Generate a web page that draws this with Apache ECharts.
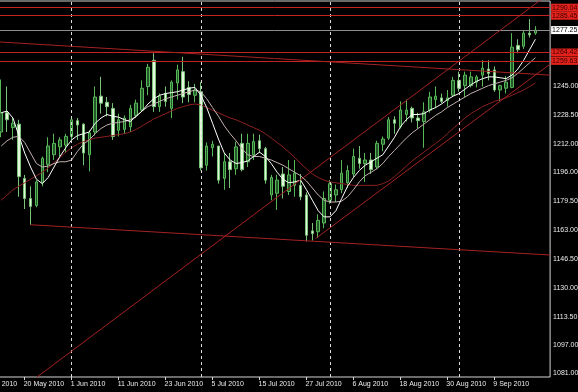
<!DOCTYPE html>
<html><head><meta charset="utf-8">
<style>html,body{margin:0;padding:0;background:#000;}#chart{width:578px;height:392px;}</style>
<script src="https://cdn.jsdelivr.net/npm/echarts@6/dist/echarts.min.js"></script>
</head><body><div id="chart"></div>
<script>
// ---- categories (trading days; first four precede the first visible bar) ----
const dates = ['10 May 2010','11 May 2010','12 May 2010','13 May 2010','14 May 2010','17 May 2010','18 May 2010','19 May 2010','20 May 2010','21 May 2010','24 May 2010','25 May 2010','26 May 2010','27 May 2010','28 May 2010','31 May 2010',
'1 Jun 2010','2 Jun 2010','3 Jun 2010','4 Jun 2010','7 Jun 2010','8 Jun 2010','9 Jun 2010','10 Jun 2010','11 Jun 2010','14 Jun 2010','15 Jun 2010','16 Jun 2010','17 Jun 2010','18 Jun 2010','21 Jun 2010','22 Jun 2010','23 Jun 2010','24 Jun 2010','25 Jun 2010','28 Jun 2010','29 Jun 2010','30 Jun 2010',
'1 Jul 2010','2 Jul 2010','5 Jul 2010','6 Jul 2010','7 Jul 2010','8 Jul 2010','9 Jul 2010','12 Jul 2010','13 Jul 2010','14 Jul 2010','15 Jul 2010','16 Jul 2010','19 Jul 2010','20 Jul 2010','21 Jul 2010','22 Jul 2010','23 Jul 2010','26 Jul 2010','27 Jul 2010','28 Jul 2010','29 Jul 2010','30 Jul 2010',
'2 Aug 2010','3 Aug 2010','4 Aug 2010','5 Aug 2010','6 Aug 2010','9 Aug 2010','10 Aug 2010','11 Aug 2010','12 Aug 2010','13 Aug 2010','16 Aug 2010','17 Aug 2010','18 Aug 2010','19 Aug 2010','20 Aug 2010','23 Aug 2010','24 Aug 2010','25 Aug 2010','26 Aug 2010','27 Aug 2010','30 Aug 2010','31 Aug 2010',
'1 Sep 2010','2 Sep 2010','3 Sep 2010','6 Sep 2010','7 Sep 2010','8 Sep 2010','9 Sep 2010','10 Sep 2010','13 Sep 2010','14 Sep 2010','15 Sep 2010','16 Sep 2010','17 Sep 2010','20 Sep 2010','21 Sep 2010','22 Sep 2010'];
const firstBarDate = '14 May 2010';

// ---- OHLC (from 14 May 2010) ----
const opens = [1219,1230,1221.5,1223.5,1192.5,1181,1177,1190,1200.5,1206,
1210.5,1211.5,1216.5,1225.5,1223.5,1206,1219,1239.5,1236,1232.5,
1220,1220.5,1222,1228.5,1231.5,1245,1260,1233.5,1241,1232.5,
1247,1253.5,1244.5,1240,1242,1200,1210,1211,1192.5,1202,
1198,1212.5,1202,1206,1214,1209.5,1183,1184,1195,1185,
1188.5,1188.5,1183,1162.5,1162,1167,1180,1183,1186,1190,
1195,1204,1201,1203,1199,1212,1215.5,1226,1222,1229,
1232.5,1227,1225,1231.5,1237.5,1238.5,1237,1240,1248.5,1245.5,
1245.5,1247.5,1251.5,1255,1254.5,1243,1244,1244.5,1268.5,1268,
1275.5,1275.5];
const highs = [1249,1245,1227,1226,1194.5,1188,1191.5,1205,1216,1218,
1216,1218,1228,1227,1224,1220,1245,1250.5,1239,1235.5,
1229.5,1228.5,1234.5,1237.5,1248.5,1258,1264,1241,1245,1248.5,
1257.5,1262,1248,1246.5,1247.5,1213,1214,1211,1207,1207,
1213.5,1218,1218,1218,1217.5,1210.5,1194.5,1194.5,1199,1203,
1203,1195,1184.5,1167,1172,1185,1191.5,1189,1203,1200,
1209.5,1211,1207,1207,1214,1216.5,1227.5,1228,1236.5,1237.5,
1233.5,1230,1236,1242,1245,1241,1243,1250.5,1253.5,1253.5,
1253.5,1251.5,1260,1260,1256.5,1246,1251,1275.5,1272,1277,
1283.5,1279.5];
const lows = [1216,1219,1214.5,1182,1175,1166,1176,1188,1196,1203,
1205,1207,1214.5,1214.5,1200,1196.5,1217,1229.5,1228,1214.5,
1216.5,1218,1219,1227,1231,1240,1230.5,1230.5,1233.5,1227,
1237.5,1235.5,1236,1236,1197,1197,1205,1189.5,1186,1187,
1194.5,1196.5,1199,1203,1207,1189.5,1180,1174.5,1181,1183,
1182,1180,1156.5,1157,1158.5,1164,1178,1179,1184,1187,
1193,1198,1190.5,1195,1198,1208,1214.5,1218,1221,1225,
1224.5,1221,1210,1230,1232.5,1235.5,1233.5,1239,1242,1239,
1244.5,1244.5,1245,1248.5,1242,1236.5,1241,1244,1264,1266.5,
1273,1274.5];
const closes = [1230,1226,1224,1193.5,1181,1176.5,1190.5,1204,1211,1212.5,
1214.5,1216.5,1226,1223,1207,1218.5,1239,1235.5,1233.5,1216.5,
1226,1227,1232.5,1235.5,1244,1256,1233.5,1239.5,1236.5,1247.5,
1254.5,1239,1240.5,1243,1198.5,1211,1212,1191.5,1202,1197.5,
1210.5,1197.5,1212.5,1213.5,1209.5,1191.5,1193,1191.5,1188,1194.5,
1195.5,1182,1160,1161,1168.5,1181,1189.5,1186,1195.5,1197,
1205,1201,1203,1197.5,1212.5,1215,1226,1224,1231.5,1231.5,
1227,1225.5,1230.5,1239,1239.5,1236.5,1238.5,1248.5,1244,1251.5,
1250.5,1250.5,1255.5,1252.5,1243,1245.5,1247.5,1267.5,1266,1275.5,
1274.5,1277.25];

// ---- moving averages ----
const maFast = [1230,1231,1227,1217,1207,1199,1192,1189.5,1193,1199,
1205,1210,1214.5,1217,1218,1219,1224,1227,1229,1228,
1227.5,1226,1225,1228,1231,1235,1238,1240,1241,1241.5,
1242,1243,1244,1244.5,1240,1233,1224,1215,1207,1203,
1201,1201.5,1202.5,1205,1207.5,1205,1201,1196,1192,1190,
1190.5,1191.5,1186,1180,1174,1170.5,1170.5,1174,1181,1188,
1193,1197,1200,1202,1204,1206,1211,1216,1222,1226,
1229,1229,1229.5,1231.5,1233,1235,1237.5,1239.5,1241,1243.5,
1246,1248,1249.5,1250.5,1250.5,1250,1249.5,1251.5,1255,1260,
1266,1272];
const maMid = [1211,1214,1216,1216.5,1213,1207,1201,1199,1199.5,1201,
1202,1202,1203,1208,1212,1214.5,1218,1221,1223,1224,
1224.5,1225,1226,1228,1231,1233.5,1235,1236.5,1238,1239,
1240,1241,1242,1243,1242,1238,1233,1228,1222.5,1218,
1214,1209.5,1206,1205,1205,1204,1203,1201.5,1200,1198,
1196,1194,1191,1187,1183,1180,1179,1179,1179.5,1182,
1186,1190.5,1194,1196,1198,1201,1205,1208.5,1212,1215.5,
1218.5,1221,1223.5,1226,1228.5,1230.5,1233,1235,1237,1239,
1241,1242.5,1244,1245.5,1246.5,1247.5,1248.5,1250,1252.5,1255.5,
1258.5,1261.5];
const maSlow = [1180,1183,1186,1188,1190,1192,1194,1196,1198.5,1201.5,
1204.5,1207.5,1210,1212,1213.5,1214.5,1215.5,1216,1216.5,1217,
1217.5,1218,1219,1220.5,1222.5,1224.5,1226.5,1228,1229.5,1231,
1232.5,1233.5,1234.5,1235,1234.5,1233,1231.5,1230,1228.5,1227,
1226,1224.5,1223,1221.5,1220,1218,1215.5,1213,1210.5,1207.5,
1204.5,1201,1198,1195,1193,1191.5,1190.5,1190,1189.5,1189,
1188.5,1188.5,1188.5,1188.5,1188.5,1189.5,1191,1193.5,1196.5,1199.5,
1202.5,1205,1207.5,1210,1212.5,1215,1218,1221,1224,1227,
1229.5,1231.5,1233.5,1235,1236.5,1237.5,1238.5,1240,1241.5,1243,
1245,1247];

// ---- drawn objects: trend lines as [position in dates, price] ----
const trendUpper = [[10.1,1079],[97.5,1298.5]];
const trendLower = [[57.5,1158],[97.5,1257.8]];
const trendFalling = [[-0.5,1271.3],[97.5,1251.5]];
const trendBottom = [[9,1166],[97.5,1148.7]];
const redLevels = [1290.04, 1285.45, 1264.42, 1259.63];
const bidPrice = 1277.25;
const separators = ['1 Jun 2010','1 Jul 2010','2 Aug 2010','1 Sep 2010'];
const priceTicks = [1081,1097,1113.5,1130,1146.5,1163,1179.5,1196,1212,1228.5,1245];

// ---- build ----
const offset = dates.indexOf(firstBarDate);
const lastBar = offset + closes.length - 1;
const pad = arr => dates.map((d,i) => { const k = i - offset; return (k >= 0 && k < arr.length) ? arr[k] : '-'; });
const candleData = dates.map((d,i) => { const k = i - offset; return (k >= 0 && k < closes.length) ? [opens[k], closes[k], lows[k], highs[k]] : '-'; });
const labelEvery = (idx) => idx % 8 === 0 && idx <= lastBar;
const FONT = '"Liberation Sans", Arial, sans-serif';
const FS = 7;
const TREND = '#a52222';

const levelLines = redLevels.map(v => ({
  yAxis: v,
  lineStyle: {color: '#c42424', width: 1, type: 'solid'},
  label: {show: true, position: 'end', formatter: p => Number(p.value).toFixed(2), backgroundColor: '#e3221c', color: '#3a0000', fontSize: FS, fontFamily: FONT, padding: [1,1,0,1], distance: 1}
}));
const bidLine = {
  yAxis: bidPrice,
  lineStyle: {color: '#8e8e8e', width: 1, type: 'solid'},
  label: {show: true, position: 'end', formatter: p => Number(p.value).toFixed(2), backgroundColor: '#ffffff', color: '#000', fontSize: FS, fontFamily: FONT, padding: [1,1,0,1], distance: 1}
};
const sepLines = separators.map(d => ({
  xAxis: d,
  lineStyle: {color: '#dcdcdc', width: 1, type: [3,3]},
  label: {show: false}
}));

const trend = (data) => ({type: 'line', xAxisIndex: 1, data, symbol: 'none', silent: true, clip: true, z: 5,
  lineStyle: {color: TREND, width: 1}});
const ma = (arr, color) => ({type: 'line', xAxisIndex: 0, data: pad(arr), symbol: 'none', silent: true, z: 4,
  lineStyle: {color, width: 1}});

const option = {
  animation: false,
  backgroundColor: '#000',
  grid: {left: -25.2, top: 1, width: 575.3, height: 376, containLabel: false, outerBoundsMode: 'none',
    show: true, borderColor: '#d4d4d4', borderWidth: 1, backgroundColor: '#000'},
  xAxis: [
    {type: 'category', data: dates, boundaryGap: true,
     axisLine: {show: false},
     axisTick: {show: true, alignWithLabel: true, interval: labelEvery, length: 3, lineStyle: {color: '#d4d4d4'}},
     axisLabel: {interval: labelEvery, align: 'left', color: '#ececec', fontSize: FS, fontFamily: FONT, margin: 4, hideOverlap: false, padding: [0,0,0,-1]},
     splitLine: {show: false}},
    {type: 'value', min: -0.5, max: dates.length - 0.5, show: false}
  ],
  yAxis: {type: 'value', position: 'right', min: 1079, max: 1293.86,
    axisLine: {show: false}, splitLine: {show: false},
    axisTick: {show: true, customValues: priceTicks, length: 3, lineStyle: {color: '#d4d4d4'}},
    axisLabel: {customValues: priceTicks, formatter: v => Number(v).toFixed(2), color: '#ececec', fontSize: FS, fontFamily: FONT, margin: 3}},
  series: [
    {type: 'candlestick', data: candleData, barWidth: 3, z: 3, silent: true,
     itemStyle: {color: '#24582a', color0: '#e4f6dc', borderColor: '#56b856', borderColor0: '#78c478', borderWidth: 1},
     markLine: {silent: true, symbol: ['none','none'], animation: false, data: [...sepLines, ...levelLines, bidLine]}},
    ma(maSlow, '#8e2020'),
    ma(maMid, '#c4b0b0'),
    ma(maFast, '#ffffff'),
    trend(trendUpper),
    trend(trendLower),
    trend(trendFalling),
    trend(trendBottom)
  ]
};
const chart = echarts.init(document.getElementById('chart'), null, {renderer: 'canvas'});
chart.setOption(option);
</script></body></html>
